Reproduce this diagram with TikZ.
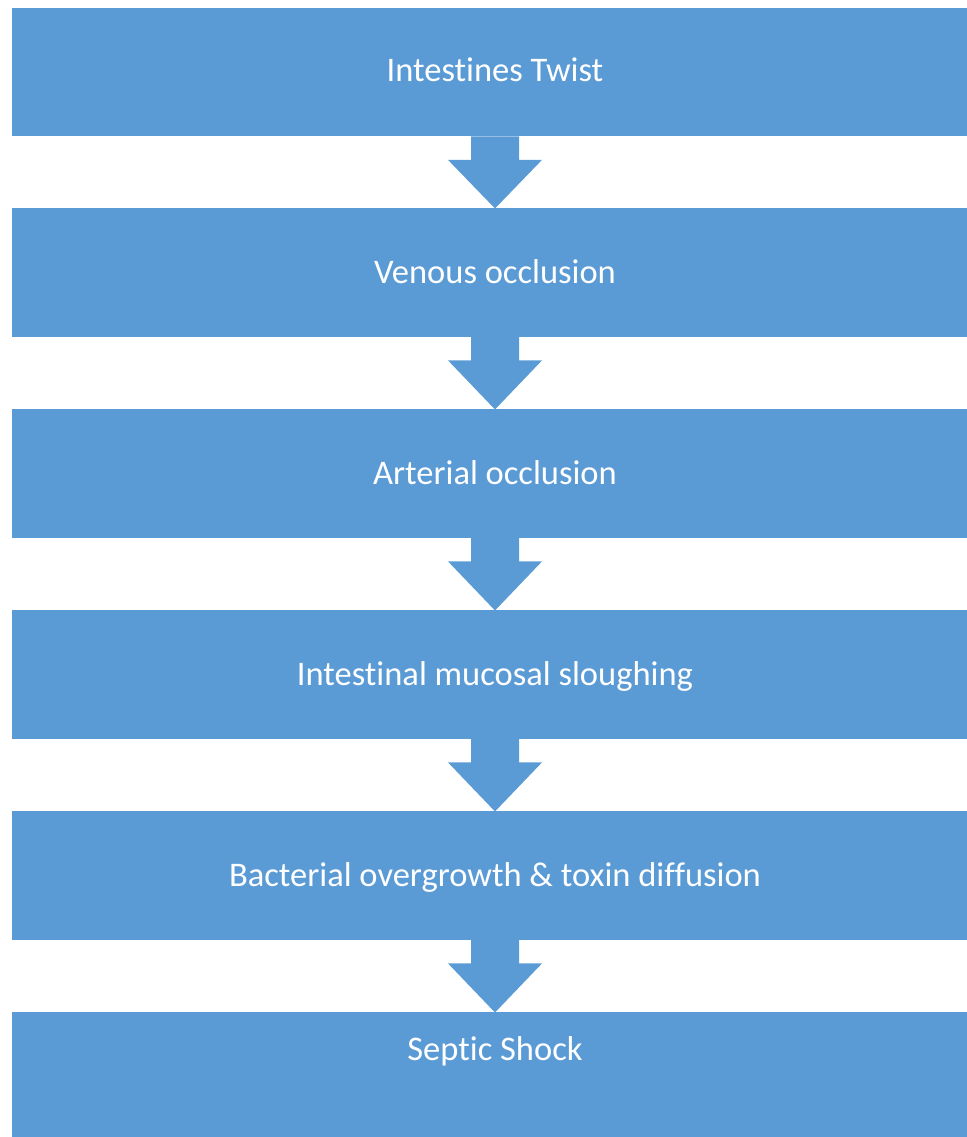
\documentclass[tikz,border=0pt]{standalone}
\usepackage{fontspec}
\setmainfont{Carlito}[Ligatures=NoCommon]
\usetikzlibrary{calc}
\definecolor{boxblue}{HTML}{5B9BD5}
\tikzset{
  flowbox/.style={rectangle, fill=boxblue, draw=none, minimum width=966pt, minimum height=128.5pt, inner sep=0pt, anchor=north west},
  flowtxt/.style={text=white, font=\fontsize{34.5}{40}\selectfont, inner sep=0pt, anchor=base},
  flowarrow/.style={fill=boxblue, draw=none}
}
\begin{document}
\begin{tikzpicture}[x=1pt,y=-1pt]
\useasboundingbox (0,0) rectangle (966,1137);
\node[flowbox] (b1) at (12,7.5) {};
\node[flowbox] (b2) at (12,208) {};
\node[flowbox] (b3) at (12,409) {};
\node[flowbox] (b4) at (12,610) {};
\node[flowbox] (b5) at (12,811) {};
\node[flowbox] (b6) at (12,1012) {};
\node[flowtxt] (t1) at (495,82) {Intestines Twist};
\node[flowtxt] (t2) at (495,283) {Venous occlusion};
\node[flowtxt] (t3) at (495,484) {Arterial occlusion};
\node[flowtxt] (t4) at (495,685.5) {Intestinal mucosal sloughing};
\node[flowtxt] (t5) at (495,886.5) {Bacterial overgrowth \& toxin diffusion};
\node[flowtxt] (t6) at (495,1060) {Septic Shock};
\foreach \a/\b in {b1/b2,b2/b3,b3/b4,b4/b5,b5/b6}{
  \fill[flowarrow]
    ($(\a.south west)+(459,0)$) -- ($(\a.south west)+(507,0)$) --
    ($(\a.south west)+(507,23.5)$) -- ($(\a.south west)+(530,23.5)$) --
    ($(\b.north west)+(483,0.5)$) --
    ($(\a.south west)+(436,23.5)$) -- ($(\a.south west)+(459,23.5)$) -- cycle;
}
\end{tikzpicture}
\end{document}
